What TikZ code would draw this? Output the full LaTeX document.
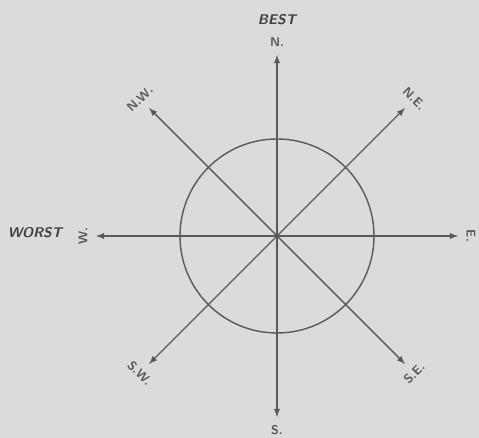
\documentclass[tikz,border=0pt]{standalone}
\begin{document}
\begin{tikzpicture}[x=0.025cm, y=0.025cm]
    % sfondo e riquadro
    \fill[black!14] (-277,-202) rectangle (202,236);
    \useasboundingbox (-277,-202) rectangle (202,236);
    \coordinate (o) at (0,0);

    % cerchio
    \draw[line width=1pt, black!65] (o) circle (97);

    % frecce e punti cardinali
    \foreach \ang/\nome/\lab/\rot in {90/n/N./0, 45/ne/N.E./-45, 0/e/E./-90, -45/se/S.E./45,
                                     -90/s/S./0, -135/sw/S.W./-45, 180/w/W./90, 135/nw/N.W./45} {
        \coordinate (\nome) at (\ang:181);
        \draw[line width=1pt, black!65, -latex] (o) -- (\nome);
        \node[font=\sffamily\bfseries\small, text=black!65, inner sep=1pt, rotate=\rot] (l\nome) at (\ang:194) {\lab};
    }

    % etichette
    \node[font=\sffamily\bfseries\itshape, text=black!75] (best) at (0,216) {BEST};
    \node[font=\sffamily\bfseries\itshape, text=black!75] (worst) at (-242,3) {WORST};
\end{tikzpicture}
\end{document}
